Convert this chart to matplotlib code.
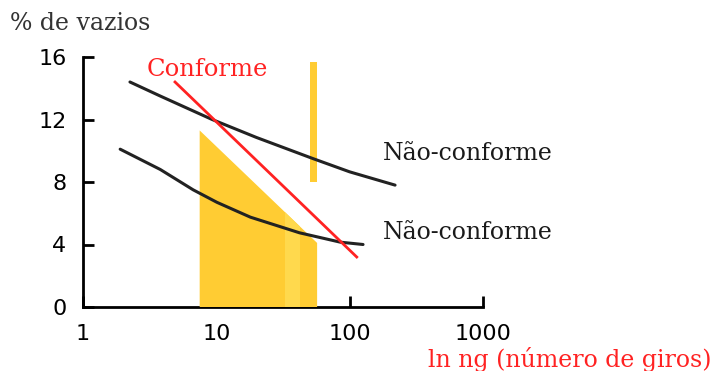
import matplotlib
matplotlib.use("Agg")
import matplotlib.pyplot as plt
from matplotlib.patches import Polygon

# curve data (x = número de giros, y = % de vazios)
upper_x = [2.25, 3.8, 9.3, 20, 53, 100, 219]
upper_y = [14.4, 13.5, 12.0, 10.85, 9.5, 8.65, 7.8]

lower_x = [1.9, 3.8, 6.7, 10.1, 18, 42, 85, 126]
lower_y = [10.1, 8.8, 7.5, 6.7, 5.75, 4.75, 4.15, 4.0]

conf_x = [4.9, 113]
conf_y = [14.4, 3.2]

# yellow zone and the vertical bar
zone_x = [7.5, 7.5, 57, 57]
zone_y = [0, 11.3, 4.1, 0]
band_x = [33, 42.5]        # lighter dotted strip inside the zone
bar_x = [50.5, 57]
bar_y = [8.0, 15.7]

xticks = [1, 10, 100, 1000]
yticks = [0, 4, 8, 12, 16]

yellow = "#FFCC33"
red = "#FF2222"
ink = "#1a1a1a"

fig = plt.figure(figsize=(7.13, 3.71), dpi=100)
ax = fig.add_axes([83 / 713, 1 - 307 / 371, 400 / 713, 250 / 371])
ax.set_xscale("log")
ax.set_xlim(1, 1000)
ax.set_ylim(0, 16)

zone = Polygon(list(zip(zone_x, zone_y)), closed=True,
               facecolor=yellow, edgecolor="none", zorder=3)
ax.add_patch(zone)
band = ax.fill_between(band_x, 0, 16, color="#FFD94D", lw=0, zorder=3.5)
band.set_clip_path(zone)
ax.fill_between(bar_x, bar_y[0], bar_y[1], color=yellow, lw=0, zorder=3)

ax.plot(upper_x, upper_y, color="#222222", lw=2.2, zorder=4,
        solid_capstyle="round")
ax.plot(lower_x, lower_y, color="#222222", lw=2.2, zorder=4,
        solid_capstyle="round")
ax.plot(conf_x, conf_y, color=red, lw=2.0, zorder=5)

for side in ["top", "right"]:
    ax.spines[side].set_visible(False)
for side in ["left", "bottom"]:
    ax.spines[side].set_linewidth(2.0)
    ax.spines[side].set_color("black")

ax.set_xticks(xticks)
ax.set_xticklabels([str(t) for t in xticks])
ax.set_yticks(yticks)
ax.set_yticklabels([str(t) for t in yticks])
ax.minorticks_off()
ax.tick_params(axis="both", direction="in", length=8, width=2.0,
               labelsize=16, colors="black")
ax.tick_params(axis="x", pad=12)
ax.tick_params(axis="y", pad=12)

serif = "DejaVu Serif"
fig.text(10 / 713, 1 - 23 / 371, "% de vazios", family=serif, fontsize=17,
         color="#333333", va="center", ha="left")
fig.text(147 / 713, 1 - 70 / 371, "Conforme", family=serif, fontsize=17.5,
         color=red, va="center", ha="left")
fig.text(383 / 713, 1 - 154 / 371, "Não-conforme", family=serif, fontsize=17,
         color=ink, va="center", ha="left")
fig.text(383 / 713, 1 - 233 / 371, "Não-conforme", family=serif, fontsize=17,
         color=ink, va="center", ha="left")
fig.text(712 / 713, 1 - 360 / 371, "ln ng (número de giros)", family=serif,
         fontsize=17, color=red, va="center", ha="right")

fig.savefig("out.png", dpi=100)
